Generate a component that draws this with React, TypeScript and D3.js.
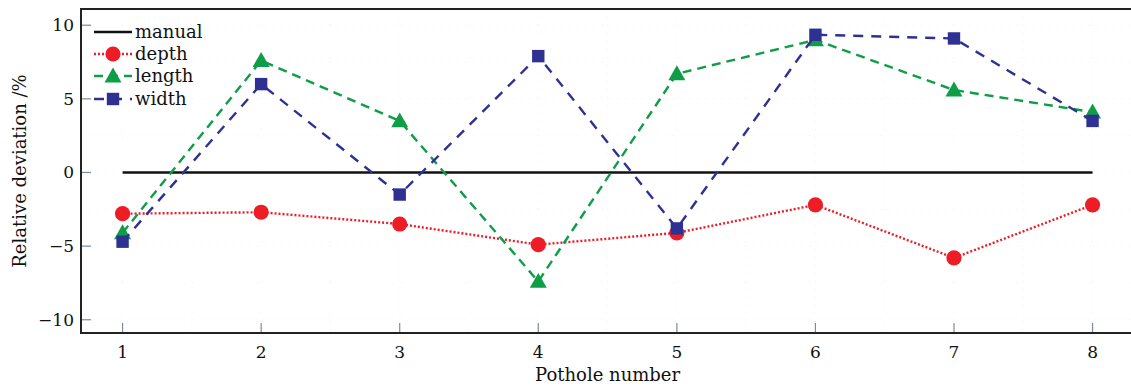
import React from "react";
import * as d3 from "d3";

// Pothole index along the x axis
const potholes = [1, 2, 3, 4, 5, 6, 7, 8];

// Relative deviation (%) of each measured dimension
const manual = [0, 0, 0, 0, 0, 0, 0, 0];
const depth = [-2.8, -2.7, -3.5, -4.9, -4.1, -2.2, -5.8, -2.2];
const lengthDev = [-4.1, 7.6, 3.5, -7.4, 6.7, 9.0, 5.6, 4.1];
const widthDev = [-4.7, 6.0, -1.5, 7.9, -3.8, 9.35, 9.1, 3.5];

const yTicks = [-10, -5, 0, 5, 10];
const xTicks = [1, 2, 3, 4, 5, 6, 7, 8];

const W = 1131;
const H = 386;
const left = 81;
const top = 9;
const bottom = 333;

const font = "'DejaVu Serif', serif";

type Series = {
  name: string;
  values: number[];
  color: string;
  dash: string | null;
  width: number;
  marker: "none" | "circle" | "triangle" | "square";
};

const series: Series[] = [
  { name: "manual", values: manual, color: "#111111", dash: null, width: 2.6, marker: "none" },
  { name: "depth", values: depth, color: "#ee1c25", dash: "2,2", width: 2.4, marker: "circle" },
  { name: "length", values: lengthDev, color: "#0f9d48", dash: "9,6", width: 2.4, marker: "triangle" },
  { name: "width", values: widthDev, color: "#2e3192", dash: "10,8", width: 2.4, marker: "square" },
];

function Marker({ kind, x, y, color }: { kind: Series["marker"]; x: number; y: number; color: string }) {
  if (kind === "circle") return <circle cx={x} cy={y} r={7.6} fill={color} />;
  if (kind === "square") return <rect x={x - 6.2} y={y - 6.2} width={12.4} height={12.4} fill={color} />;
  if (kind === "triangle") {
    const s = 8.5;
    return (
      <path
        d={`M${x},${y - s * 1.0} L${x + s},${y + s * 0.75} L${x - s},${y + s * 0.75} Z`}
        fill={color}
      />
    );
  }
  return null;
}

export default function App() {
  const x = d3.scaleLinear().domain([0.7, 8.3]).range([left, left + 7.6 * 138.57]);
  const y = d3.scaleLinear().domain([-10.9, 11.1]).range([bottom, top]);

  const line = (vals: number[]) =>
    d3
      .line<number>()
      .x((_, i) => x(potholes[i]))
      .y((v) => y(v))(vals) as string;

  const gridX = d3.range(1, 8.01, 0.5);
  const gridY = d3.range(-10, 10.01, 2.5);

  const legendY = [32, 54, 76, 99];

  return (
    <svg
      width={W}
      height={H}
      style={{ position: "absolute", left: 0, top: 0, background: "#fff" }}
      fontFamily={font}
    >
      <rect x={0} y={0} width={W} height={H} fill="#fff" />

      {/* faint dotted grid */}
      {gridX.map((g) => (
        <line key={"gx" + g} x1={x(g)} x2={x(g)} y1={top} y2={bottom} stroke="#edf1f5" strokeWidth={1} strokeDasharray="1,7" />
      ))}
      {gridY.map((g) => (
        <line key={"gy" + g} x1={left} x2={W} y1={y(g)} y2={y(g)} stroke="#edf1f5" strokeWidth={1} strokeDasharray="1,7" />
      ))}

      {/* ticks inside the frame */}
      {yTicks.map((t) => (
        <g key={"yt" + t}>
          <line x1={left} x2={left + 10} y1={y(t)} y2={y(t)} stroke="#7f8a99" strokeWidth={1.2} />
          <text x={74} y={y(t)} dy="0.35em" textAnchor="end" fontSize={17} fill="#111">
            {t < 0 ? "\u2212" + Math.abs(t) : t}
          </text>
        </g>
      ))}
      {xTicks.map((t) => (
        <g key={"xt" + t}>
          <line x1={x(t)} x2={x(t)} y1={bottom} y2={bottom - 10} stroke="#7f8a99" strokeWidth={1.2} />
          <text x={x(t)} y={358} textAnchor="middle" fontSize={17} fill="#111">
            {t}
          </text>
        </g>
      ))}

      {/* series */}
      {series.map((s) => (
        <g key={s.name}>
          <path
            d={line(s.values)}
            fill="none"
            stroke={s.color}
            strokeWidth={s.width}
            strokeDasharray={s.dash ?? undefined}
          />
          {s.values.map((v, i) => (
            <Marker key={i} kind={s.marker} x={x(potholes[i])} y={y(v)} color={s.color} />
          ))}
        </g>
      ))}

      {/* frame */}
      <path d={`M${W},${top} H${left} V${bottom} H${W}`} fill="none" stroke="#222" strokeWidth={2} />

      {/* legend */}
      {series.map((s, i) => (
        <g key={"lg" + s.name}>
          <line
            x1={94}
            x2={132}
            y1={legendY[i]}
            y2={legendY[i]}
            stroke={s.color}
            strokeWidth={s.width}
            strokeDasharray={s.dash ?? undefined}
          />
          <Marker kind={s.marker} x={113} y={legendY[i]} color={s.color} />
          <text x={135} y={legendY[i]} dy="0.32em" fontSize={18} fill="#111">
            {s.name}
          </text>
        </g>
      ))}

      {/* axis titles */}
      <text x={(x(1) + x(8)) / 2} y={381} textAnchor="middle" fontSize={18} fill="#111">
        Pothole number
      </text>
      <text
        transform={`translate(26,${(top + bottom) / 2}) rotate(-90)`}
        textAnchor="middle"
        fontSize={18}
        fill="#111"
      >
        Relative deviation /%
      </text>
    </svg>
  );
}
